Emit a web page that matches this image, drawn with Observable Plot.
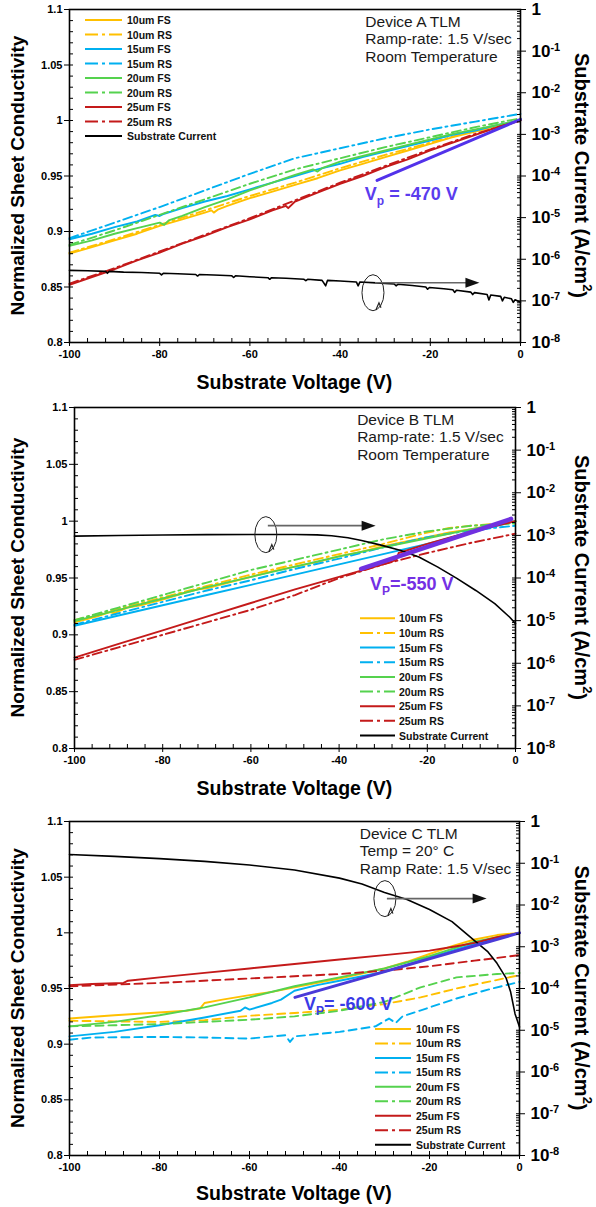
<!DOCTYPE html>
<html><head><meta charset="utf-8">
<script src="https://cdn.jsdelivr.net/npm/d3@7"></script>
<script src="https://cdn.jsdelivr.net/npm/@observablehq/plot@0.6"></script>
<style>
body{margin:0;background:#fff;font-family:"Liberation Sans",Arial,sans-serif;}
#wrap{width:596px;}
svg{display:block;}
</style></head><body><div id="wrap"></div>
<script>
// ---------- categories / legend ----------
const seriesNames = ["10um FS","10um RS","15um FS","15um RS","20um FS","20um RS","25um FS","25um RS"];
const seriesColors = ["#FFC000","#FFC000","#00B0F0","#00B0F0","#55D24E","#55D24E","#C41A1A","#C41A1A"];
const seriesIsRS = [false,true,false,true,false,true,false,true];
const currentName = "Substrate Current";

// ---------- tick labels ----------
const xMajor = [-100,-80,-60,-40,-20,0];
const leftMajor = [0.8,0.85,0.9,0.95,1,1.05,1.1];
const leftMajorLabels = ["0.8","0.85","0.9","0.95","1","1.05","1.1"];
const rightExponents = [0,-1,-2,-3,-4,-5,-6,-7,-8];

// ---------- Device A (voltage V, normalized conductivity) ----------
const A_10FS = [[-100,0.880],[-95,0.886],[-90,0.892],[-85,0.898],[-80,0.905],[-75,0.911],[-70,0.917],[-68.5,0.919],[-68,0.917],[-67,0.920],[-65,0.923],[-60,0.930],[-55,0.936],[-50,0.942],[-45,0.948],[-40,0.955],[-35,0.961],[-30,0.967],[-25,0.973],[-20,0.979],[-15,0.985],[-10,0.990],[-5,0.995],[0,1.000]];
const A_10RS = [[-100,0.881],[-90,0.893],[-80,0.906],[-70,0.919],[-60,0.932],[-50,0.944],[-40,0.957],[-30,0.969],[-20,0.980],[-10,0.991],[0,1.000]];
const A_15FS = [[-100,0.893],[-95,0.898],[-90,0.904],[-85,0.909],[-81,0.915],[-80,0.914],[-79,0.916],[-75,0.921],[-70,0.927],[-65,0.932],[-60,0.938],[-55,0.944],[-50,0.950],[-45,0.956],[-40,0.961],[-35,0.967],[-30,0.972],[-25,0.977],[-20,0.982],[-15,0.987],[-10,0.991],[-5,0.996],[0,1.000]];
const A_15RS = [[-100,0.894],[-90,0.908],[-80,0.922],[-70,0.937],[-60,0.952],[-50,0.966],[-40,0.975],[-30,0.984],[-20,0.992],[-10,0.999],[0,1.006]];
const A_20FS = [[-100,0.887],[-95,0.892],[-90,0.898],[-85,0.903],[-80,0.908],[-79,0.906],[-78,0.910],[-75,0.914],[-70,0.922],[-65,0.929],[-60,0.937],[-55,0.944],[-50,0.951],[-46,0.956],[-45,0.954],[-44,0.957],[-40,0.963],[-35,0.968],[-30,0.973],[-25,0.978],[-20,0.983],[-15,0.988],[-10,0.992],[-5,0.996],[0,1.000]];
const A_20RS = [[-100,0.888],[-90,0.901],[-80,0.915],[-70,0.929],[-60,0.943],[-50,0.956],[-40,0.966],[-30,0.976],[-20,0.985],[-10,0.994],[0,1.002]];
const A_25FS = [[-100,0.852],[-95,0.859],[-90,0.866],[-85,0.874],[-80,0.881],[-75,0.889],[-70,0.896],[-65,0.904],[-60,0.911],[-55,0.919],[-52,0.923],[-51.5,0.921],[-50,0.927],[-45,0.935],[-40,0.943],[-35,0.950],[-30,0.958],[-25,0.965],[-20,0.973],[-15,0.980],[-10,0.987],[-5,0.994],[0,1.000]];
const A_25RS = [[-100,0.853],[-90,0.867],[-80,0.882],[-70,0.897],[-60,0.912],[-50,0.928],[-40,0.944],[-30,0.959],[-20,0.974],[-10,0.988],[0,1.000]];
// substrate current, A/cm^2
const A_current = [[-100,5.4e-7],[-96,5.3e-7],[-92,5.1e-7],[-91.6,4.6e-7],[-91.2,5.1e-7],[-88,4.9e-7],[-84,4.8e-7],[-80,4.6e-7],[-79.6,4.2e-7],[-79.2,4.6e-7],[-76,4.5e-7],[-72,4.3e-7],[-71.6,3.95e-7],[-71.2,4.3e-7],[-68,4.2e-7],[-64,4.0e-7],[-63.6,3.65e-7],[-63.2,4.0e-7],[-60,3.8e-7],[-56,3.6e-7],[-55.6,3.3e-7],[-55.2,3.6e-7],[-52,3.5e-7],[-48,3.3e-7],[-47.6,3.05e-7],[-47.2,3.3e-7],[-44,3.1e-7],[-43.2,2.3e-7],[-42.8,3.1e-7],[-40,3.0e-7],[-36.4,2.85e-7],[-36,2.3e-7],[-35.6,2.85e-7],[-32,2.7e-7],[-28,2.55e-7],[-27.6,2.3e-7],[-27.2,2.5e-7],[-24,2.35e-7],[-21,2.15e-7],[-20.6,1.9e-7],[-20.2,2.1e-7],[-17,1.95e-7],[-15,1.85e-7],[-14.6,1.6e-7],[-14.2,1.8e-7],[-11,1.62e-7],[-10.6,1.42e-7],[-10.2,1.58e-7],[-7.4,1.42e-7],[-7,1.05e-7],[-6.6,1.38e-7],[-4.4,1.28e-7],[-4,1.0e-7],[-3.6,1.22e-7],[-2,1.12e-7],[-1.6,0.92e-7],[-1.2,1.06e-7],[0,0.93e-7]];
const A_vp = [[-31.8,0.946],[0,1.001]];

// ---------- Device B ----------
const B_10FS = [[-100,0.911],[-95,0.916],[-92,0.920],[-91,0.919],[-88,0.924],[-85,0.926],[-80,0.931],[-75,0.937],[-72,0.940],[-70,0.941],[-65,0.946],[-60,0.951],[-55,0.956],[-50,0.960],[-45,0.964],[-40,0.969],[-35,0.973],[-30,0.978],[-25,0.982],[-20,0.986],[-15,0.990],[-10,0.993],[-5,0.997],[0,1.000]];
const B_10RS = [[-100,0.913],[-90,0.923],[-80,0.933],[-70,0.943],[-60,0.953],[-50,0.962],[-40,0.971],[-30,0.980],[-20,0.990],[-15,0.994],[-10,0.996],[0,0.999]];
const B_15FS = [[-100,0.908],[-90,0.917],[-80,0.926],[-70,0.935],[-60,0.944],[-50,0.953],[-40,0.962],[-30,0.971],[-20,0.980],[-10,0.990],[0,1.000]];
const B_15RS = [[-100,0.909],[-90,0.919],[-80,0.929],[-70,0.939],[-60,0.948],[-50,0.958],[-40,0.967],[-30,0.977],[-20,0.986],[-10,0.992],[0,0.996]];
const B_20FS = [[-100,0.912],[-90,0.922],[-80,0.932],[-70,0.942],[-60,0.951],[-50,0.960],[-40,0.969],[-30,0.977],[-20,0.985],[-10,0.993],[0,1.000]];
const B_20RS = [[-100,0.913],[-90,0.924],[-80,0.935],[-70,0.946],[-60,0.957],[-50,0.966],[-40,0.975],[-30,0.984],[-20,0.991],[-10,0.996],[0,0.998]];
const B_25FS = [[-100,0.880],[-90,0.892],[-80,0.904],[-70,0.916],[-60,0.928],[-50,0.940],[-40,0.951],[-30,0.962],[-27,0.966],[-26.5,0.972],[-20,0.980],[-10,0.991],[0,1.000]];
const B_25RS = [[-100,0.878],[-90,0.889],[-80,0.900],[-70,0.911],[-60,0.922],[-50,0.935],[-40,0.950],[-30,0.962],[-20,0.972],[-10,0.981],[0,0.989]];
const B_current = [[-100,9.6e-4],[-90,9.9e-4],[-80,1.02e-3],[-70,1.04e-3],[-60,1.05e-3],[-50,1.05e-3],[-45,1.03e-3],[-41.7,9.8e-4],[-38,8.8e-4],[-34.9,7.6e-4],[-30.5,5.9e-4],[-26.2,4.5e-4],[-21.9,3.1e-4],[-17.6,1.8e-4],[-13.3,9.8e-5],[-9,5.1e-5],[-4.7,2.5e-5],[-1.3,1.2e-5],[0,8.5e-6]];
const B_vp = [[-35.0,0.958],[-1.0,1.002]];

// ---------- Device C ----------
const C_10FS = [[-100,0.923],[-90,0.926],[-82,0.928],[-74,0.930],[-71,0.932],[-70,0.937],[-66,0.940],[-60,0.944],[-55,0.947],[-50,0.951],[-40,0.959],[-30,0.968],[-25,0.974],[-20,0.981],[-15,0.988],[-10,0.994],[-5,0.998],[0,1.000]];
const C_10RS = [[-100,0.921],[-90,0.9205],[-80,0.920],[-70,0.9215],[-60,0.9255],[-50,0.928],[-40,0.931],[-30,0.936],[-22,0.942],[-14,0.950],[0,0.962]];
const C_15FS = [[-100,0.907],[-90,0.911],[-80,0.917],[-70,0.924],[-62,0.930],[-61,0.933],[-60,0.931],[-55,0.937],[-53,0.940],[-50,0.948],[-45,0.953],[-40,0.957],[-30,0.965],[-20,0.978],[-10,0.990],[0,1.000]];
const C_15RS = [[-100,0.904],[-95,0.906],[-80,0.9065],[-70,0.906],[-60,0.905],[-55,0.907],[-52,0.908],[-51,0.902],[-50,0.907],[-40,0.911],[-32,0.916],[-29,0.923],[-27.5,0.919],[-26,0.925],[-20,0.933],[-14,0.941],[-7,0.949],[0,0.956]];
const C_20FS = [[-100,0.916],[-90,0.920],[-80,0.926],[-70,0.933],[-60,0.942],[-50,0.952],[-40,0.960],[-30,0.968],[-20,0.979],[-10,0.992],[0,1.000]];
const C_20RS = [[-100,0.916],[-90,0.917],[-80,0.918],[-70,0.920],[-60,0.922],[-50,0.925],[-40,0.930],[-30,0.938],[-22,0.951],[-14,0.960],[-5,0.963],[0,0.964]];
const C_25FS = [[-100,0.953],[-95,0.954],[-88,0.955],[-87,0.957],[-80,0.960],[-70,0.964],[-60,0.968],[-50,0.972],[-40,0.976],[-30,0.980],[-20,0.984],[-14,0.988],[-10,0.991],[-5,0.996],[0,1.000]];
const C_25RS = [[-100,0.952],[-80,0.955],[-60,0.959],[-40,0.963],[-30,0.966],[-20,0.970],[-10,0.975],[0,0.980]];
const C_current = [[-100,0.162],[-90,0.146],[-80,0.129],[-70,0.111],[-60,0.091],[-50,0.069],[-40,0.044],[-35,0.032],[-30,0.020],[-25,0.0135],[-20,0.0078],[-15,0.0040],[-10,0.0014],[-7,7.5e-4],[-5,4.0e-4],[-3,1.8e-4],[-2,8.5e-5],[-1,2.5e-5],[0,1.2e-5]];
const C_vp = [[-49.9,0.942],[0,1.0]];

// ---------- helpers ----------
const FONT = "'Liberation Sans', Arial, Helvetica, sans-serif";
const yOfLog = k => 1.1 + 0.0375 * k;          // log10(current) -> left-axis units
const yOfCurrent = I => yOfLog(Math.log10(I));
const leftMinor = d3.range(80, 111).map(d => d / 100);
const xMinor = d3.range(-100, 1, 4);
const rightMinor = [];
for (let k = -8; k < 0; k++) for (let m = 1; m <= 9; m++) rightMinor.push(yOfLog(k + Math.log10(m)));
rightMinor.push(yOfLog(0));
const leftLabelOf = new Map(leftMajor.map((d, i) => [d, leftMajorLabels[i]]));

function makePanel(p) {
  const marks = [];
  p.series.forEach((data, i) => {
    marks.push(Plot.line(data, {x: d => d[0], y: d => d[1], stroke: seriesColors[i], strokeWidth: 1.9,
      strokeDasharray: seriesIsRS[i] ? p.rsDash : null}));
  });
  marks.push(Plot.line(p.current, {x: d => d[0], y: d => yOfCurrent(d[1]), stroke: "#000", strokeWidth: 1.6}));
  marks.push(Plot.line(p.vp, {x: d => d[0], y: d => d[1], stroke: p.vpColor, strokeWidth: p.vpWidth}));
  marks.push(Plot.text([p.info], {x: d => d.V, y: d => d.v, text: d => d.lines.join("\n"), textAnchor: "start",
    lineAnchor: "top", lineHeight: 1.13, fontSize: 15.5, fontWeight: "normal", fill: "#1a1a1a"}));
  marks.push(Plot.frame({stroke: "#000", strokeWidth: 1.6}));
  // axes
  marks.push(Plot.axisY(leftMinor, {anchor: "left", tickSize: 4, dx: 4, tickFormat: () => "", label: null}));
  marks.push(Plot.axisY(leftMajor, {anchor: "left", tickSize: 5, tickPadding: 2, tickFormat: d => leftLabelOf.get(d),
    fontSize: 11, fontWeight: "bold", label: null}));
  marks.push(Plot.axisY(rightMinor, {anchor: "right", tickSize: 4, dx: -4, tickFormat: () => "", label: null}));
  marks.push(Plot.axisY(rightExponents.map(yOfLog), {anchor: "right", tickSize: 5, tickPadding: 6,
    tickFormat: (d) => { const k = Math.round((d - 1.1) / 0.0375); return k === 0 ? "1" : "10^" + k; },
    fontSize: 17, fontWeight: "bold", label: null}));
  marks.push(Plot.axisX(xMinor, {anchor: "bottom", tickSize: 4, dy: -4, tickFormat: () => "", label: null}));
  marks.push(Plot.axisX(xMajor, {anchor: "bottom", tickSize: 4, tickPadding: 4, tickFormat: d => String(d),
    fontSize: 11, fontWeight: "bold", label: null}));

  const plot = Plot.plot({
    width: 596, height: p.height,
    marginTop: p.mt, marginBottom: p.mb, marginLeft: p.ml, marginRight: p.mr,
    x: {domain: [-100, 0]}, y: {domain: [0.8, 1.1]},
    style: {fontFamily: FONT, color: "#000", background: "#fff", overflow: "visible"},
    marks
  });
  const svg = d3.select(plot);
  // superscripts on the log axis
  svg.selectAll("text").each(function () {
    const m = /^10\^(-?\d+)$/.exec(this.textContent);
    if (m) {
      const t = d3.select(this);
      t.text("10");
      t.append("tspan").attr("dy", "-0.55em").attr("font-size", "11px").text(m[1]);
    }
  });
  const xs = plot.scale("x"), ys = plot.scale("y");
  const X = v => xs.apply(v), Y = v => ys.apply(v);
  const top = p.mt, bottom = p.height - p.mb, left = p.ml, right = 596 - p.mr;
  // axis titles
  svg.append("text").attr("transform", `translate(${17},${(top + bottom) / 2}) rotate(-90)`)
    .attr("text-anchor", "middle").attr("dominant-baseline", "central")
    .attr("font-family", FONT).attr("font-weight", "bold").attr("font-size", 19).text("Normalized Sheet Conductivity");
  const rt = svg.append("text").attr("transform", `translate(${582},${(top + bottom) / 2}) rotate(90)`)
    .attr("text-anchor", "middle").attr("dominant-baseline", "central")
    .attr("font-family", FONT).attr("font-weight", "bold").attr("font-size", 20);
  rt.append("tspan").text("Substrate Current (A/cm");
  rt.append("tspan").attr("dy", "-0.45em").attr("font-size", 13).text("2");
  rt.append("tspan").attr("dy", "0.45em").text(")");
  svg.append("text").attr("x", (left + right) / 2).attr("y", bottom + p.xTitleOff)
    .attr("text-anchor", "middle").attr("dominant-baseline", "central")
    .attr("font-family", FONT).attr("font-weight", "bold").attr("font-size", 19.5).text("Substrate Voltage (V)");
  // V_P label
  const vt = svg.append("text").attr("x", X(p.vpText.V)).attr("y", Y(p.vpText.v)).attr("text-anchor", "start")
    .attr("font-family", FONT).attr("font-weight", "bold").attr("font-size", 18).attr("fill", p.vpTextColor);
  vt.append("tspan").text("V");
  vt.append("tspan").attr("dy", 5).attr("font-size", 12).text(p.vpText.sub);
  vt.append("tspan").attr("dy", -5).text(p.vpText.rest);
  // rotation + arrow annotation
  const a = p.arrow;
  const cx = X(a.cV), cy = Y(a.cv), ay = Y(a.av), tip = X(a.tipV);
  svg.append("ellipse").attr("cx", cx).attr("cy", cy).attr("rx", 11).attr("ry", 18)
    .attr("fill", "none").attr("stroke", "#222").attr("stroke-width", 1);
  svg.append("path").attr("d", `M${cx + 3},${cy + 17} L${cx + 6},${cy + 10} L${cx + 8},${cy + 15}`)
    .attr("fill", "none").attr("stroke", "#222").attr("stroke-width", 1.2);
  svg.append("line").attr("x1", cx + 2).attr("x2", tip - 12).attr("y1", ay).attr("y2", ay)
    .attr("stroke", "#666").attr("stroke-width", 1.6);
  svg.append("path").attr("d", `M${tip},${ay} L${tip - 14},${ay - 5} L${tip - 14},${ay + 5} Z`).attr("fill", "#111");
  // legend
  const lg = p.legend;
  const names = seriesNames.concat([currentName]);
  const cols = seriesColors.concat(["#000"]);
  names.forEach((name, i) => {
    const y = lg.y + i * lg.step;
    svg.append("line").attr("x1", lg.x1).attr("x2", lg.x2).attr("y1", y).attr("y2", y)
      .attr("stroke", cols[i]).attr("stroke-width", 2)
      .attr("stroke-dasharray", i < 8 && seriesIsRS[i] ? "13,4,3,4" : null);
    svg.append("text").attr("x", lg.tx).attr("y", y).attr("dominant-baseline", "central").attr("text-anchor", "start")
      .attr("font-family", FONT).attr("font-weight", "bold").attr("font-size", 10.5).attr("fill", "#111").text(name);
  });
  return plot;
}

const wrap = document.getElementById("wrap");
wrap.appendChild(makePanel({
  height: 400, mt: 9, mb: 58, ml: 69, mr: 76, xTitleOff: 40, rsDash: "9,4,2,4",
  series: [A_10FS, A_10RS, A_15FS, A_15RS, A_20FS, A_20RS, A_25FS, A_25RS], current: A_current,
  vp: A_vp, vpColor: "#5232ea", vpWidth: 3, vpTextColor: "#5a3cee",
  vpText: {V: -34.4, v: 0.928, sub: "p", rest: " = -470 V"},
  info: {V: -34.4, v: 1.0955, lines: ["Device A TLM", "Ramp-rate: 1.5 V/sec", "Room Temperature"]},
  arrow: {cV: -32.6, cv: 0.8444, av: 0.8534, tipV: -9.0},
  legend: {x1: 85, x2: 122, tx: 127, y: 20, step: 14.5}
}));
wrap.appendChild(makePanel({
  height: 405, mt: 7, mb: 57, ml: 74, mr: 81, xTitleOff: 40, rsDash: "9,4,2,4",
  series: [B_10FS, B_10RS, B_15FS, B_15RS, B_20FS, B_20RS, B_25FS, B_25RS], current: B_current,
  vp: B_vp, vpColor: "#7131e0", vpWidth: 4.5, vpTextColor: "#7430e4",
  vpText: {V: -32.9, v: 0.9393, sub: "P", rest: "=-550 V"},
  info: {V: -35.9, v: 1.0958, lines: ["Device B TLM", "Ramp-rate: 1.5 V/sec", "Room Temperature"]},
  arrow: {cV: -56.5, cv: 0.9877, av: 0.9956, tipV: -31.6},
  legend: {x1: 360, x2: 395, tx: 399, y: 218.3, step: 14.65}
}));
wrap.appendChild(makePanel({
  height: 402, mt: 16, mb: 52, ml: 69, mr: 77, xTitleOff: 38, rsDash: "8,5",
  series: [C_10FS, C_10RS, C_15FS, C_15RS, C_20FS, C_20RS, C_25FS, C_25RS], current: C_current,
  vp: C_vp, vpColor: "#4a3ad8", vpWidth: 3, vpTextColor: "#3a3ae6",
  vpText: {V: -47.8, v: 0.930, sub: "P", rest: "= -600 V"},
  info: {V: -35.5, v: 1.0955, lines: ["Device C TLM", "Temp = 20° C", "Ramp Rate: 1.5 V/sec"]},
  arrow: {cV: -29.8, cv: 1.0303, av: 1.0303, tipV: -7.2},
  legend: {x1: 375, x2: 411, tx: 416, y: 224, step: 14.46}
}));
</script></body></html>
